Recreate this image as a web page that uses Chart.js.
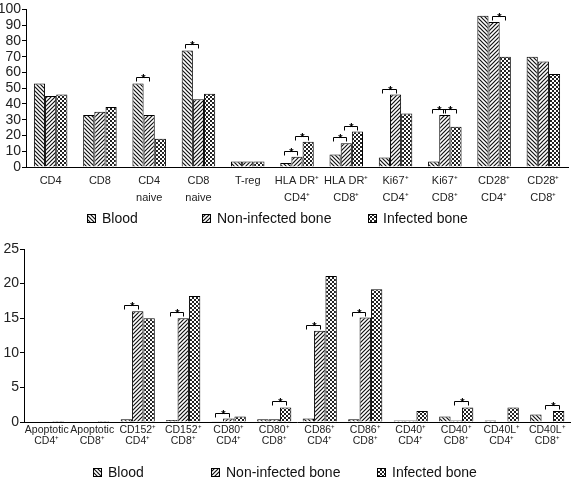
<!DOCTYPE html>
<html>
<head>
<meta charset="utf-8">
<script src="https://cdn.jsdelivr.net/npm/chart.js@4"></script>
<style>
body{margin:0;background:#fff;}
#top{position:absolute;left:0;top:0;width:577px;height:235px;}
#bot{position:absolute;left:0;top:235px;width:577px;height:246px;}
</style>
</head>
<body>
<div id="top"><canvas id="topChart"></canvas></div>
<div id="bot"><canvas id="botChart"></canvas></div>
<script>
// data for upper panel (%)
const seriesNames = ['Blood', 'Non-infected bone', 'Infected bone'];

const topLabels = [['CD4'], ['CD8'], ['CD4', 'naive'], ['CD8', 'naive'], ['T-reg'],
  ['HLA DR⁺', 'CD4⁺'], ['HLA DR⁺', 'CD8⁺'], ['Ki67⁺', 'CD4⁺'], ['Ki67⁺', 'CD8⁺'],
  ['CD28⁺', 'CD4⁺'], ['CD28⁺', 'CD8⁺']];
const topBlood  = [53, 33, 53, 74, 3.5, 2.5, 8, 6, 3.5, 96, 70];
const topNonInf = [45, 35, 33, 43, 3.5, 6.5, 15, 46, 33, 92, 67];
const topInf    = [46, 38, 18, 46.5, 3.5, 16, 22.5, 34, 25.5, 70, 59];
// [category, first series, second series] marked with *
const topSig = [[2,0,1],[3,0,1],[5,0,1],[5,1,2],[6,0,1],[6,1,2],[7,0,1],[8,0,1],[8,1,2],[9,1,2]];
const topTicks = [0,10,20,30,40,50,60,70,80,90,100];

// data for lower panel (%)
const botLabels = [['Apoptotic', 'CD4⁺'], ['Apoptotic', 'CD8⁺'], ['CD152⁺', 'CD4⁺'], ['CD152⁺', 'CD8⁺'],
  ['CD80⁺', 'CD4⁺'], ['CD80⁺', 'CD8⁺'], ['CD86⁺', 'CD4⁺'], ['CD86⁺', 'CD8⁺'],
  ['CD40⁺', 'CD4⁺'], ['CD40⁺', 'CD8⁺'], ['CD40L⁺', 'CD4⁺'], ['CD40L⁺', 'CD8⁺']];
const botBlood  = [0, 0, 0.4, 0.3, 0.1, 0.4, 0.5, 0.4, 0.2, 0.8, 0.2, 1.1];
const botNonInf = [0, 0, 16, 15, 0.5, 0.4, 13.2, 15.1, 0.2, 0.2, 0, 0];
const botInf    = [0.15, 0.15, 15, 18.2, 0.8, 2.1, 21.1, 19.2, 1.6, 2.1, 2.1, 1.6];
const botSig = [[2,0,1],[3,0,1],[4,0,1],[5,1,2],[6,0,1],[7,0,1],[9,1,2],[11,1,2]];
const botTicks = [0,5,10,15,20,25];

const FONT = "'Liberation Sans', Arial, Helvetica, sans-serif";

// hatch fills
function makePattern(kind){
  const c = document.createElement('canvas');
  const s = 4;
  c.width = s; c.height = s;
  const g = c.getContext('2d');
  if(kind === 'dots'){
    g.fillStyle = '#222';
    g.fillRect(0, 0, s, s);
    g.fillStyle = '#fff';
    g.fillRect(0, 0, 2, 2);
    g.fillRect(2, 2, 2, 2);
  } else {
    g.fillStyle = '#fff';
    g.fillRect(0, 0, s, s);
    g.strokeStyle = '#111';
    g.lineWidth = 1.2;
    g.beginPath();
    if(kind === 'back'){
      g.moveTo(-1, -1); g.lineTo(s+1, s+1);
      g.moveTo(-1, s-1); g.lineTo(1, s+1);
      g.moveTo(s-1, -1); g.lineTo(s+1, 1);
    } else {
      g.moveTo(-1, s+1); g.lineTo(s+1, -1);
      g.moveTo(-1, 1); g.lineTo(1, -1);
      g.moveTo(s-1, s+1); g.lineTo(s+1, s-1);
    }
    g.stroke();
  }
  return g.createPattern(c, 'repeat');
}
const fills = [makePattern('back'), makePattern('fwd'), makePattern('dots')];

// significance brackets
const bracketPlugin = {
  id: 'brackets',
  afterDatasetsDraw(chart, args, opts){
    const ctx = chart.ctx;
    ctx.save();
    ctx.strokeStyle = '#000';
    ctx.fillStyle = '#000';
    ctx.lineWidth = 1;
    ctx.font = 'bold 11px ' + FONT;
    ctx.textAlign = 'center';
    opts.list.forEach(([cat, a, b]) => {
      const ba = chart.getDatasetMeta(a).data[cat];
      const bb = chart.getDatasetMeta(b).data[cat];
      const y = Math.round(Math.min(ba.y, bb.y) - 6) + 0.5;
      const x1 = Math.round(ba.x - 2) + 0.5, x2 = Math.round(bb.x) + 0.5;
      const xm = Math.round((x1 + x2) / 2) + 0.5;
      ctx.beginPath();
      ctx.moveTo(x1, y + 4); ctx.lineTo(x1, y); ctx.lineTo(x2, y); ctx.lineTo(x2, y + 4);
      ctx.moveTo(xm, y); ctx.lineTo(xm, y - 2);
      ctx.stroke();
      ctx.fillText('*', xm, y + 4);
    });
    ctx.restore();
  }
};

// legend under each panel
const legendPlugin = {
  id: 'flatLegend',
  afterDraw(chart, args, opts){
    const ctx = chart.ctx;
    ctx.save();
    ctx.font = '14px ' + FONT;
    ctx.textBaseline = 'middle';
    chart.data.datasets.forEach((ds, i) => {
      const x = opts.xs[i], y = opts.y;
      ctx.fillStyle = ds.backgroundColor;
      ctx.fillRect(x, y - 4, 8, 8);
      ctx.strokeStyle = '#000';
      ctx.lineWidth = 1;
      ctx.strokeRect(x + 0.5, y - 3.5, 8, 8);
      ctx.fillStyle = '#111';
      ctx.fillText(ds.label, x + 15, y + 1);
    });
    ctx.restore();
  }
};

function buildChart(id, labels, series, sig, ticks, opt){
  return new Chart(document.getElementById(id), {
    type: 'bar',
    data: {
      labels: labels,
      datasets: series.map((vals, i) => ({
        label: seriesNames[i],
        data: vals,
        backgroundColor: fills[i],
        borderColor: '#000',
        borderWidth: 1,
        categoryPercentage: opt.catPct,
        barPercentage: 1
      }))
    },
    options: {
      responsive: true,
      maintainAspectRatio: false,
      animation: false,
      layout: { padding: opt.padding },
      plugins: {
        legend: { display: false },
        tooltip: { enabled: false },
        brackets: { list: sig },
        flatLegend: { xs: opt.legendXs, y: opt.legendY }
      },
      scales: {
        x: {
          grid: { display: false, drawTicks: false },
          border: { display: true, color: '#000', width: 1 },
          ticks: {
            color: '#222', padding: opt.xPad, maxRotation: 0, autoSkip: false,
            font: { family: FONT, size: opt.xFont, lineHeight: opt.xLine }
          },
          afterFit: s => { s.height = opt.xHeight; }
        },
        y: {
          min: ticks[0],
          max: ticks[ticks.length - 1],
          afterBuildTicks: s => { s.ticks = ticks.map(v => ({ value: v })); },
          grid: { display: true, drawOnChartArea: false, drawTicks: true, tickLength: 4, color: '#000' },
          border: { display: true, color: '#000', width: 1 },
          ticks: { color: '#222', padding: 1, autoSkip: false, font: { family: FONT, size: 14 } },
          afterFit: s => { s.width = opt.yWidth; }
        }
      }
    },
    plugins: [bracketPlugin, legendPlugin]
  });
}

buildChart('topChart', topLabels, [topBlood, topNonInf, topInf], topSig, topTicks, {
  catPct: 0.68, padding: { top: 6, right: 9, bottom: 28, left: 0 },
  xPad: 6, xFont: 11, xLine: 1.5, xHeight: 40, yWidth: 26,
  legendXs: [87, 202, 368], legendY: 218
});

buildChart('botChart', botLabels, [botBlood, botNonInf, botInf], botSig, botTicks, {
  catPct: 0.75, padding: { top: 14, right: 7, bottom: 29, left: 0 },
  xPad: 2, xFont: 10.5, xLine: 1.1, xHeight: 30, yWidth: 24,
  legendXs: [93, 211, 377], legendY: 237
});
</script>
</body>
</html>
